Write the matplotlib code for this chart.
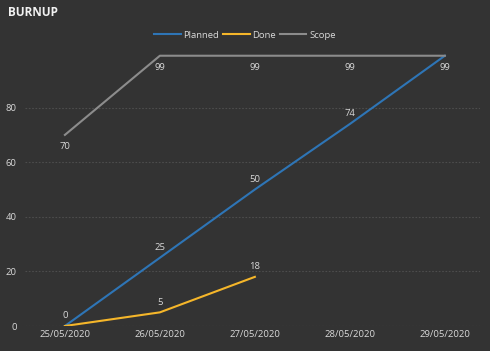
import matplotlib
matplotlib.use("Agg")
import matplotlib.pyplot as plt

dates = ["25/05/2020", "26/05/2020", "27/05/2020", "28/05/2020", "29/05/2020"]
planned = [0, 25, 50, 74, 99]
done = [0, 5, 18]
scope = [70, 99, 99, 99, 99]
yticks = [0, 20, 40, 60, 80]

bg = "#333333"
txt = "#d9d9d9"
plt.rcParams['font.family'] = ['Open Sans', 'DejaVu Sans']

fig = plt.figure(figsize=(4.9, 3.51), dpi=100, facecolor=bg)
ax = fig.add_axes([25/490, 1-326/351, 455/490, (326-53)/351])
ax.set_facecolor(bg)

x = list(range(len(dates)))
lp, = ax.plot(x, planned, color="#2e75b6", lw=1.5, label="Planned")
ld, = ax.plot(x[:len(done)], done, color="#f5b62a", lw=1.5, label="Done")
ls, = ax.plot(x, scope, color="#8c8c8c", lw=1.5, label="Scope")

fs = 6.8
for xi, v in zip(x, planned):
    if xi == 4:
        continue
    ax.annotate(str(v), (xi, v), xytext=(0, 4), textcoords="offset points",
                ha="center", va="bottom", color=txt, fontsize=fs)
for xi, v in zip(x, done):
    if xi == 0:
        continue
    ax.annotate(str(v), (xi, v), xytext=(0, 4), textcoords="offset points",
                ha="center", va="bottom", color=txt, fontsize=fs)
for xi, v in zip(x, scope):
    ax.annotate(str(v), (xi, v), xytext=(0, -5), textcoords="offset points",
                ha="center", va="top", color=txt, fontsize=fs)

ax.set_xlim(-0.42, 4.37)
ax.set_ylim(0, 100)
ax.set_yticks(yticks)
ax.set_xticks(x)
ax.set_xticklabels(dates)
ax.tick_params(colors=txt, labelsize=fs, length=0, pad=3)
ax.tick_params(axis="y", pad=6)
for s in ax.spines.values():
    s.set_visible(False)
ax.grid(axis="y", color="#4d4d4d", lw=0.8, ls=(0, (1.5, 1.5)))
ax.axhline(0, color="#4d4d4d", lw=0.8, ls=(0, (1.5, 1.5)))
ax.set_axisbelow(True)

fig.text(8/490, 1-12/351, "BURNUP", color="#f2f2f2", fontsize=8.5, fontweight="bold",
         va="center", ha="left")
leg = fig.legend(handles=[lp, ld, ls], loc="center", bbox_to_anchor=(245/490, 1-35/351),
                 ncol=3, frameon=False, fontsize=fs, labelcolor=txt,
                 handlelength=2.8, handletextpad=0.3, columnspacing=0.4)

fig.savefig("out.png", dpi=100, facecolor=bg)
